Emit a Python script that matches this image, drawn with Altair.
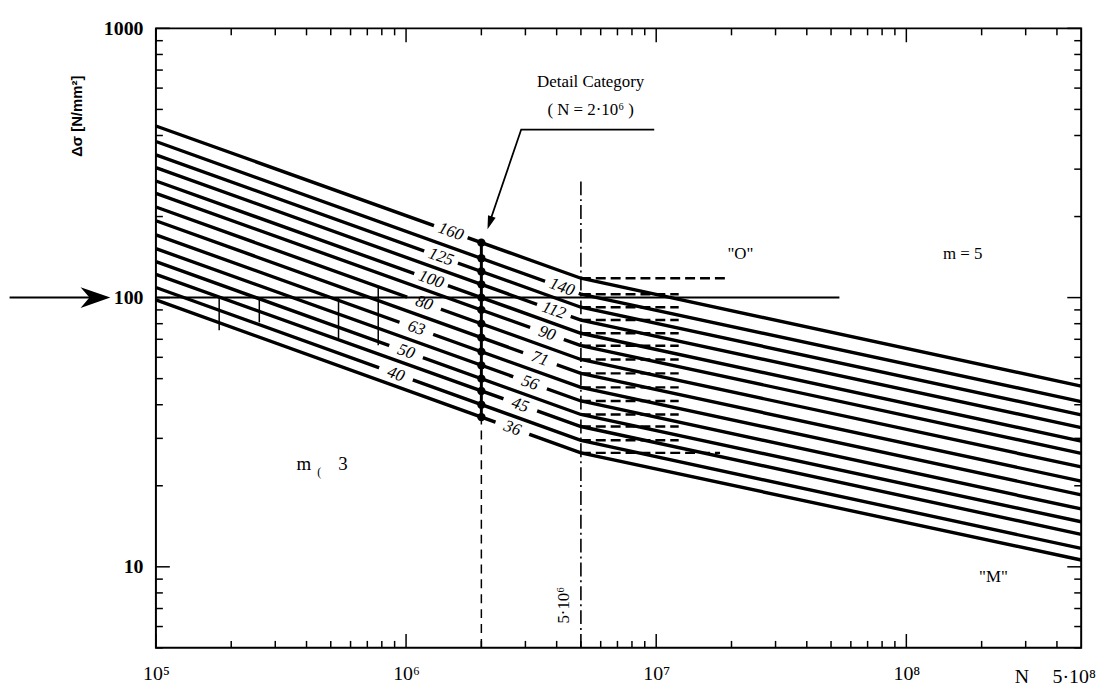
import altair as alt
import pandas as pd

# ---------------- data ----------------
categories = [160, 140, 125, 112, 100, 90, 80, 71, 63, 56, 50, 45, 40, 36]
n_knots = [1e5, 5e6, 5e8]
sigma_1e5 = [434, 380, 339, 304, 271, 244, 217, 193, 171, 152, 136, 122, 109, 98]
sigma_5e6 = [118, 103, 92.1, 82.5, 73.7, 66.3, 58.9, 52.3, 46.4, 41.3, 36.8, 33.2, 29.5, 26.5]
sigma_5e8 = [46.9, 41.1, 36.7, 32.9, 29.3, 26.4, 23.5, 20.8, 18.5, 16.4, 14.7, 13.2, 11.7, 10.6]

detail_N = 2e6
knee_N = 5e6

left_label_cats = [160, 125, 100, 80, 63, 50, 40]
left_label_N = [1.51e6, 1.38e6, 1.26e6, 1.18e6, 1.10e6, 1.0e6, 9.1e5]
left_label_S = [175.8, 141.5, 116.8, 95.4, 77.0, 63.0, 51.9]
right_label_cats = [140, 112, 90, 71, 56, 45, 36]
right_label_N = [4.2e6, 3.9e6, 3.66e6, 3.43e6, 3.13e6, 2.86e6, 2.66e6]
right_label_S = [109.3, 89.6, 73.6, 59.3, 48.2, 39.9, 32.7]

# horizontal dashed constant-amplitude limits ("O"), end N
o_end_N = [1.9e7] + [1.23e7] * 12 + [1.8e7]

ref_line_S = 100
ref_line_end_N = 5.4e7
small_tick_N = [1.79e5, 2.59e5, 5.37e5, 7.74e5]
small_tick_top = [100, 100, 100, 110.7]
small_tick_bot = [75.6, 80.9, 70.6, 66.5]

dashdot_top_S = 270

y_major = [10, 100, 1000]
y_minor = [m * d for d in (1, 10, 100) for m in (2, 3, 4, 5, 6, 7, 8, 9) if 5 <= m * d < 1000]
x_major = [1e5, 1e6, 1e7, 1e8]
x_minor = [m * d for d in (1e5, 1e6, 1e7, 1e8) for m in (2, 3, 4, 5, 6, 7, 8, 9) if m * d < 5e8]
x_label_values = [1e5, 1e6, 1e7, 1e8]

W, H = 932, 624
SERIF = "Liberation Serif"

xs = alt.Scale(type="log", domain=[1e5, 5e8])
ys = alt.Scale(type="log", domain=[5, 1000])

x_axis = alt.Axis(
    values=x_label_values,
    labelExpr="datum.value < 2e5 ? '10⁵' : datum.value < 2e6 ? '10⁶' : datum.value < 2e7 ? '10⁷' : '10⁸'",
    labelFont=SERIF, labelFontSize=20, labelColor="black",
    labelPadding=16, labelFlush=False, labelOverlap=False,
    ticks=False, tickSize=0, domain=False, grid=False, title="",
)
y_axis = alt.Axis(
    values=[10, 100, 1000], format="d",
    labelFont=SERIF, labelFontSize=20, labelColor="black", labelFontWeight="bold",
    labelPadding=13, labelFlush=False, labelOverlap=False,
    ticks=False, tickSize=0, domain=False, grid=False,
    title="Δσ [N/mm²]", titleFont="Liberation Sans", titleFontSize=15,
    titleFontWeight="bold", titleColor="black",
    titleX=-80, titleY=88, titleAlign="center", titleBaseline="middle",
)


def X(field="N"):
    return alt.X(f"{field}:Q", scale=xs, axis=x_axis)


def Y(field="S"):
    return alt.Y(f"{field}:Q", scale=ys, axis=y_axis)


# ---------------- S-N lines ----------------
rows = []
for i, c in enumerate(categories):
    for k, (n, s) in enumerate(zip(n_knots, [sigma_1e5[i], sigma_5e6[i], sigma_5e8[i]])):
        rows.append({"cat": c, "N": n, "S": s, "o": k})
sn = pd.DataFrame(rows)
lines = alt.Chart(sn).mark_line(color="black", strokeWidth=3.4).encode(
    x=X(), y=Y(), detail="cat:N", order="o:Q"
)

# constant amplitude dashed limits
orows = []
for i, c in enumerate(categories):
    orows.append({"cat": c, "N": knee_N, "S": sigma_5e6[i]})
    orows.append({"cat": c, "N": o_end_N[i], "S": sigma_5e6[i]})
o_lines = alt.Chart(pd.DataFrame(orows)).mark_line(
    color="black", strokeWidth=2.5, strokeDash=[10, 5]
).encode(x=X(), y=Y(), detail="cat:N")

# labels with white background
lab = pd.DataFrame({
    "cat": left_label_cats + right_label_cats,
    "N": left_label_N + right_label_N,
    "S": left_label_S + right_label_S,
})
lab["txt"] = lab["cat"].astype(str)
box = alt.Chart(lab).mark_point(
    shape="M-1,-0.38 L1,-0.38 L1,0.38 L-1,0.38 Z", filled=True, fill="white",
    opacity=1, strokeWidth=0, size=1300, angle=19.7
).encode(x=X(), y=Y())
labels = alt.Chart(lab).mark_text(
    font=SERIF, fontSize=17, fontStyle="italic", angle=19.7, color="black",
    align="center", baseline="middle"
).encode(x=X(), y=Y(), text="txt:N")

# detail category dots and vertical
dots_df = pd.DataFrame({"N": [detail_N] * len(categories), "S": categories})
dots = alt.Chart(dots_df).mark_point(filled=True, color="black", opacity=1, size=70).encode(x=X(), y=Y())
vert_df = pd.DataFrame({"N": [detail_N], "S": [min(categories)], "S2": [max(categories)]})
vert = alt.Chart(vert_df).mark_rule(color="black", strokeWidth=3).encode(x=X(), y=Y(), y2="S2:Q")
dash_df = pd.DataFrame({"N": [detail_N], "S": [5], "S2": [min(categories)]})
dash2e6 = alt.Chart(dash_df).mark_rule(color="black", strokeWidth=1.5, strokeDash=[9, 6]).encode(
    x=X(), y=Y(), y2="S2:Q")
dd_df = pd.DataFrame({"N": [knee_N], "S": [5], "S2": [dashdot_top_S]})
dashdot = alt.Chart(dd_df).mark_rule(color="black", strokeWidth=1.6, strokeDash=[14, 4, 2, 4]).encode(
    x=X(), y=Y(), y2="S2:Q")

# reference line at 100
ref_df = pd.DataFrame({"N": [1e5], "N2": [ref_line_end_N], "S": [ref_line_S]})
ref = alt.Chart(ref_df).mark_rule(color="black", strokeWidth=2).encode(x=X(), x2="N2:Q", y=Y())
st_df = pd.DataFrame({"N": small_tick_N, "S": small_tick_bot, "S2": small_tick_top})
sticks = alt.Chart(st_df).mark_rule(color="black", strokeWidth=1.5).encode(x=X(), y=Y(), y2="S2:Q")

# arrow at left pointing at 100
arr_df = pd.DataFrame({"N": [2.6e4], "N2": [5.8e4], "S": [100]})
arr_line = alt.Chart(arr_df).mark_rule(color="black", strokeWidth=2, clip=False).encode(
    x=X(), x2="N2:Q", y=Y())
arr_head = alt.Chart(pd.DataFrame({"N": [5.73e4], "S": [100]})).mark_point(
    shape="M1,0 L-1,-0.7 L-0.4,0 L-1,0.7 Z", filled=True, color="black", opacity=1,
    size=900, clip=False
).encode(x=X(), y=Y())

# detail category leader + arrow
lead_df = pd.DataFrame({"N": [9.82e6, 2.886e6, 2.14e6], "S": [421, 421, 186], "o": [0, 1, 2]})
lead = alt.Chart(lead_df).mark_line(color="black", strokeWidth=1.8).encode(x=X(), y=Y(), order="o:Q")
lead_head = alt.Chart(pd.DataFrame({"N": [2.173e6], "S": [193]})).mark_point(
    shape="M0,1 L-0.45,-0.5 L0.45,-0.5 Z", filled=True, color="black", opacity=1,
    size=324, angle=18.8
).encode(x=X(), y=Y())

# texts
txt_df = pd.DataFrame({
    "N": [5.47e6, 5.47e6, 2.17e7, 1.68e8, 2.23e8],
    "S": [632, 498, 145, 145, 9.2],
    "t": ["Detail Category", "( N = 2·10⁶ )", "\"O\"", "m = 5", "\"M\""],
})
texts = alt.Chart(txt_df).mark_text(font=SERIF, fontSize=17, color="black").encode(
    x=X(), y=Y(), text="t:N")

m3_df = pd.DataFrame({"N": [3.9e5, 4.5e5, 5.6e5], "S": [24, 22.5, 24], "t": ["m", "(", "3"],
                      "fs": [19, 12, 19]})
m3 = alt.Chart(m3_df).mark_text(font=SERIF, color="black").encode(
    x=X(), y=Y(), text="t:N", size=alt.Size("fs:Q", scale=None, legend=None))

n5_df = pd.DataFrame({"N": [4.28e6], "S": [7.2], "t": ["5·10⁶"]})
n5 = alt.Chart(n5_df).mark_text(font=SERIF, fontSize=17, angle=270, color="black").encode(
    x=X(), y=Y(), text="t:N")

# bottom-right "N   5·10⁸" labels
nlab_df = pd.DataFrame({"N": [2.9e8, 4.69e8], "S": [5, 5], "t": ["N", "5·10⁸"]})
nlab = alt.Chart(nlab_df).mark_text(
    font=SERIF, fontSize=20, color="black", baseline="top", dy=19, clip=False
).encode(x=X(), y=Y(), text="t:N")

# frame ticks (inward)
def yticks(vals, length):
    d = pd.DataFrame({"S": vals})
    l = alt.Chart(d).mark_rule(color="black", strokeWidth=1.5).encode(
        y=Y(), x=alt.value(0), x2=alt.value(length))
    r = alt.Chart(d).mark_rule(color="black", strokeWidth=1.5).encode(
        y=Y(), x=alt.value(W - length), x2=alt.value(W))
    return [l, r]


def xticks(vals, length):
    d = pd.DataFrame({"N": vals})
    b = alt.Chart(d).mark_rule(color="black", strokeWidth=1.5).encode(
        x=X(), y=alt.value(H - length), y2=alt.value(H))
    t = alt.Chart(d).mark_rule(color="black", strokeWidth=1.5).encode(
        x=X(), y=alt.value(0), y2=alt.value(length))
    return [b, t]


tick_layers = yticks(y_major, 14) + yticks(y_minor, 7) + xticks(x_major, 14) + xticks(x_minor, 7)

chart = alt.layer(
    lines, o_lines, box, labels, dash2e6, dashdot, vert, dots, ref, sticks,
    arr_line, arr_head, lead, lead_head, texts, m3, n5, nlab, *tick_layers
).properties(
    width=W, height=H,
    autosize=alt.AutoSizeParams(type="none"),
    padding={"left": 149, "top": 18, "right": 25, "bottom": 50},
    background="white",
).configure_view(stroke="black", strokeWidth=2)

chart.save("out.html", embed_options={"renderer": "svg", "actions": False})
